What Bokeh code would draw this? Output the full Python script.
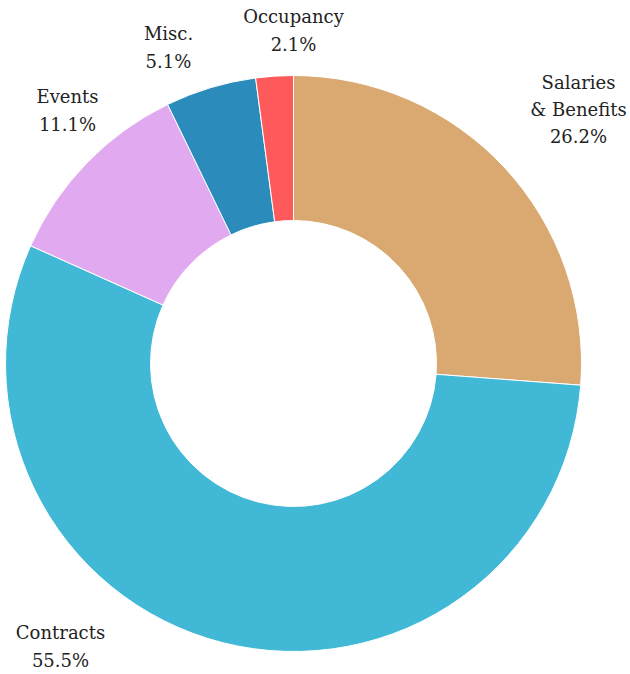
import math
from bokeh.plotting import figure
from bokeh.models import ColumnDataSource
from bokeh.core.properties import value
from bokeh.embed import file_html
from bokeh.resources import INLINE

# ---- data ----
categories = ["Salaries\n& Benefits", "Contracts", "Events", "Misc.", "Occupancy"]
shares = [26.2, 55.5, 11.1, 5.1, 2.1]
colors = ["#DAA971", "#41B8D6", "#E1A9F0", "#2B8BBA", "#FF5A5B"]

# ---- layout (pixel-based data units, image coords y flipped) ----
W, H = 630, 674
cx, cy = 293, 311
r_out, r_in = 288, 143
label_x = [578, 60, 67, 168, 293]
label_y = [565, 28, 564, 627, 644]

total = sum(shares)
starts, ends = [], []
cum = 0.0
for s in shares:
    starts.append(math.pi / 2 - 2 * math.pi * cum / total)
    cum += s
    ends.append(math.pi / 2 - 2 * math.pi * cum / total)

src = ColumnDataSource(dict(
    x=[cx] * len(shares), y=[cy] * len(shares),
    start=starts, end=ends, color=colors,
))

p = figure(width=W, height=H, x_range=(0, W), y_range=(674 - H, 674),
           output_backend="svg", toolbar_location=None, min_border=0)
p.axis.visible = False
p.grid.visible = False
p.outline_line_color = None
p.background_fill_color = "white"

p.annular_wedge(x="x", y="y", inner_radius=r_in, outer_radius=r_out,
                start_angle="start", end_angle="end", direction="clock",
                fill_color="color", line_color="white", line_width=1, source=src)

labels = [f"{c}\n{s:.1f}%" for c, s in zip(categories, shares)]
lsrc = ColumnDataSource(dict(x=label_x, y=label_y, t=labels))
p.text(x="x", y="y", text="t", source=lsrc, text_align="center", text_baseline="middle",
       text_font=value("DejaVu Serif"), text_font_size="18px", text_color="#222222",
       text_line_height=1.3)

open("out.html", "w").write(file_html(p, INLINE))
